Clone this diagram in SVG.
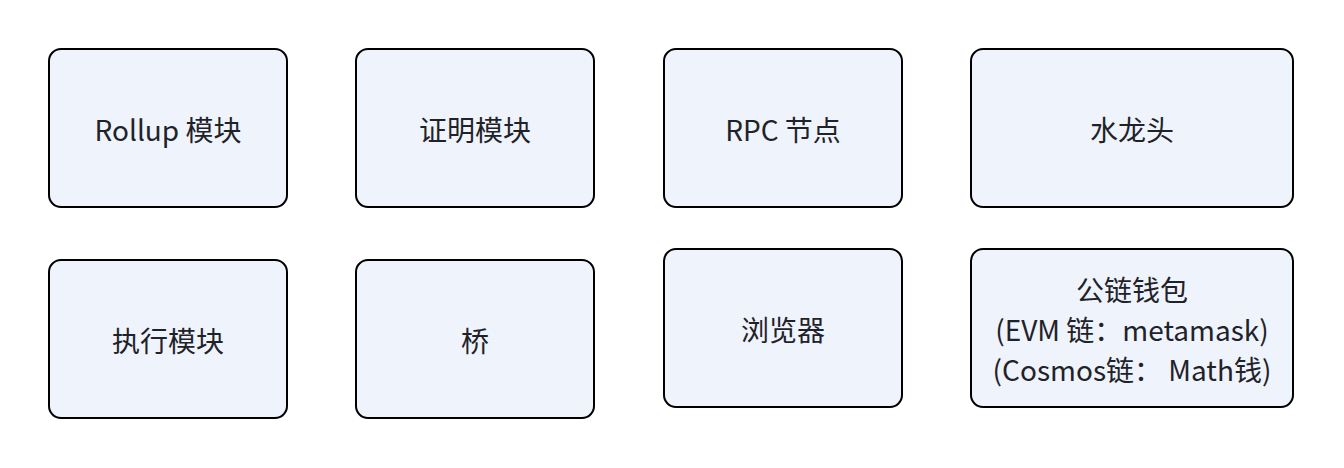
<svg xmlns="http://www.w3.org/2000/svg" width="1344" height="468" viewBox="0 0 1344 468">
<style>
.box{fill:#eff3fc;stroke:#000;stroke-width:2}
.t{font-family:"Noto Sans CJK SC","Noto Sans",sans-serif;font-size:28px;fill:#1f2329;text-anchor:middle;dominant-baseline:central}
</style>
<rect width="1344" height="468" fill="#fff"/>
<g id="connectors"></g>
<g id="n1"><rect class="box" x="49" y="49" width="238" height="158" rx="12"/><text class="t" x="168" y="129">Rollup 模块</text></g>
<g id="n2"><rect class="box" x="356" y="49" width="238" height="158" rx="12"/><text class="t" x="475" y="129">证明模块</text></g>
<g id="n3"><rect class="box" x="664" y="49" width="238" height="158" rx="12"/><text class="t" x="783" y="129">RPC 节点</text></g>
<g id="n4"><rect class="box" x="971" y="49" width="322" height="158" rx="12"/><text class="t" x="1132" y="129">水龙头</text></g>
<g id="n5"><rect class="box" x="49" y="260" width="238" height="158" rx="12"/><text class="t" x="168" y="340">执行模块</text></g>
<g id="n6"><rect class="box" x="356" y="260" width="238" height="158" rx="12"/><text class="t" x="475" y="340">桥</text></g>
<g id="n7"><rect class="box" x="664" y="249" width="238" height="158" rx="12"/><text class="t" x="783" y="329">浏览器</text></g>
<g id="n8"><rect class="box" x="971" y="249" width="322" height="158" rx="12"/><text class="t" x="1132" y="289">公链钱包</text><text class="t" x="1132" y="329">(EVM 链：metamask)</text><text class="t" x="1132" y="369">(Cosmos链： Math钱)</text></g>
</svg>
